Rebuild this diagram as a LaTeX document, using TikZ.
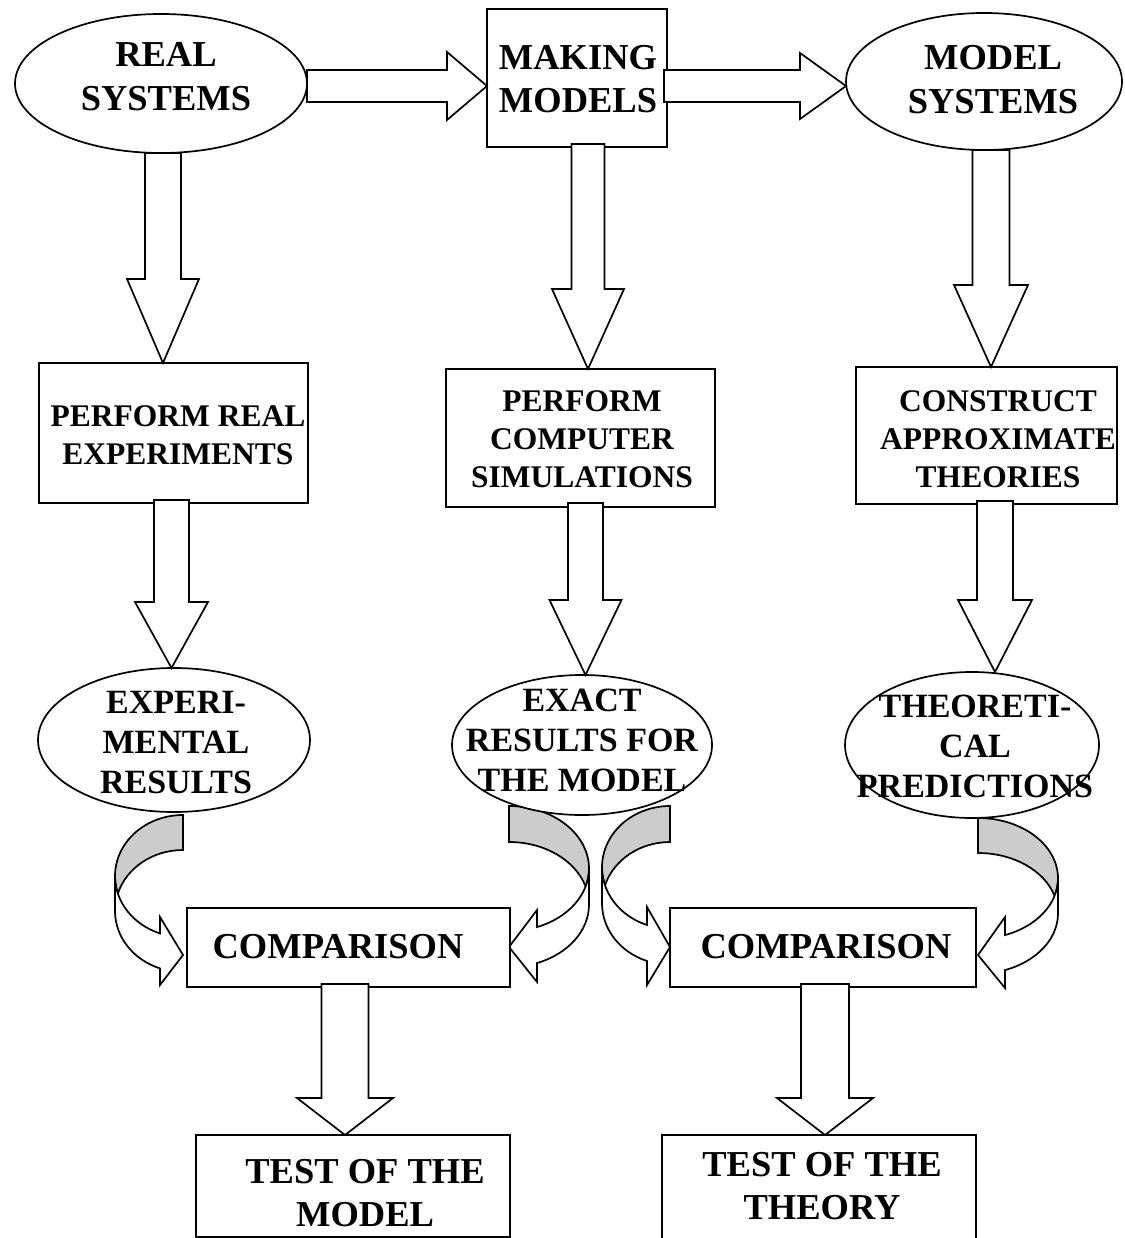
\documentclass[tikz,border=0pt]{standalone}
\usepackage{fontspec}
\setmainfont{Liberation Serif}
\usetikzlibrary{calc,shapes.geometric}
\pgfdeclarelayer{bg}
\pgfsetlayers{bg,main}

\tikzset{
  shapeline/.style={draw=black, line width=1.7pt, fill=white},
  ell/.style={shapeline, ellipse, inner sep=0pt, outer sep=0pt},
  boxn/.style={shapeline, rectangle, inner sep=0pt, outer sep=0pt},
  lblbase/.style={inner sep=0pt, outer sep=0pt, align=center},
  lblbig/.style={lblbase, font=\fontsize{36.5}{43.5}\selectfont\bfseries},
  lblmid/.style={lblbase, font=\fontsize{31.5}{38}\selectfont\bfseries},
  lblsmall/.style={lblbase, font=\fontsize{34}{40}\selectfont\bfseries},
  blockarrow/.style={draw=black, line width=1.7pt, fill=white, line join=miter},
  curvfront/.style={draw=black, line width=1.7pt, fill=white, line join=miter},
  curvback/.style={draw=black, line width=1.7pt, fill=gray!40, line join=miter},
}

% vertical block arrow: x, source, target, half shaft, half head, head length, inset
\newcommand\vblock[7]{%
  \coordinate (bs) at (#1,0 |- #2.south);
  \coordinate (bt) at (#1,0 |- #3.north);
  \draw[blockarrow] ($(bs)+(-#4,-#7)$) -- ($(bt)+(-#4,-#6)$) -- ($(bt)+(-#5,-#6)$) -- (bt)
     -- ($(bt)+(#5,-#6)$) -- ($(bt)+(#4,-#6)$) -- ($(bs)+(#4,-#7)$) -- cycle;
}
% horizontal block arrow: y, source, target, half shaft, half head, head length, inset
\newcommand\hblock[7]{%
  \coordinate (bs) at (#2.east |- 0,#1);
  \coordinate (bt) at (#3.west |- 0,#1);
  \draw[blockarrow] ($(bs)+(-#7,-#4)$) -- ($(bt)+(-#6,-#4)$) -- ($(bt)+(-#6,-#5)$) -- (bt)
     -- ($(bt)+(-#6,#5)$) -- ($(bt)+(-#6,#4)$) -- ($(bs)+(-#7,#4)$) -- cycle;
}
% curved arrow pointing right: r, t, w, hR, th, ah, barb top, barb bottom, tip y
\newcommand\curvR[9]{%
  \pgfmathsetmacro\cvcyA{#2+#4}
  \pgfmathsetmacro\cvcyB{#2+#4+#5}
  \pgfmathsetmacro\cval{acos(#6/#3)}
  \pgfmathsetmacro\cvthn{180-\cval}
  \pgfmathsetmacro\cvbe{asin(#5/(2*#4))}
  \pgfmathsetmacro\cvxn{#1-#6}
  \pgfmathsetmacro\cvysev{\cvcyB+#4*sin(\cval)}
  \pgfmathsetmacro\cvxl{#1-#3}
  \pgfmathsetmacro\cvtt{#2+#5}
  \pgfmathsetmacro\cvaA{180+\cvbe}
  \pgfmathsetmacro\cvaB{180-\cvbe}
  \draw[curvback] (#1,\cvtt) arc[start angle=270, end angle=\cvaA, x radius=#3, y radius=#4]
     arc[start angle=\cvaB, end angle=270, x radius=#3, y radius=#4] -- cycle;
  \draw[curvfront] (\cvxl,\cvcyA) arc[start angle=180, end angle=\cvthn, x radius=#3, y radius=#4]
     -- (\cvxn,#7) -- (#1,#9) -- (\cvxn,#8) -- (\cvxn,\cvysev)
     arc[start angle=\cvthn, end angle=180, x radius=#3, y radius=#4] -- cycle;
}
% curved arrow pointing left: l, t, w, hR, th, ah, barb top, barb bottom, tip y
\newcommand\curvL[9]{%
  \pgfmathsetmacro\cvcyA{#2+#4}
  \pgfmathsetmacro\cvcyB{#2+#4+#5}
  \pgfmathsetmacro\cval{acos(#6/#3)}
  \pgfmathsetmacro\cvthn{\cval}
  \pgfmathsetmacro\cvbe{asin(#5/(2*#4))}
  \pgfmathsetmacro\cvxn{#1+#6}
  \pgfmathsetmacro\cvysev{\cvcyB+#4*sin(\cval)}
  \pgfmathsetmacro\cvxr{#1+#3}
  \pgfmathsetmacro\cvtt{#2+#5}
  \pgfmathsetmacro\cvaA{360-\cvbe}
  \pgfmathsetmacro\cvaB{\cvbe}
  \draw[curvback] (#1,\cvtt) arc[start angle=270, end angle=\cvaA, x radius=#3, y radius=#4]
     arc[start angle=\cvaB, end angle=-90, x radius=#3, y radius=#4] -- cycle;
  \draw[curvfront] (\cvxr,\cvcyA) arc[start angle=0, end angle=\cvthn, x radius=#3, y radius=#4]
     -- (\cvxn,#7) -- (#1,#9) -- (\cvxn,#8) -- (\cvxn,\cvysev)
     arc[start angle=\cvthn, end angle=0, x radius=#3, y radius=#4] -- cycle;
}

\begin{document}
\begin{tikzpicture}[x=1pt, y=-1pt]
\useasboundingbox (0,0) rectangle (1124,1238);

% ---------- shapes ----------
\node[ell, minimum width=292, minimum height=139] (RS) at (161,83.5) {};
\node[boxn, minimum width=180, minimum height=138] (MM) at (577,78) {};
\node[ell, minimum width=276, minimum height=137] (MS) at (984,81.5) {};

\node[boxn, minimum width=269, minimum height=140] (PRE) at (173.5,433) {};
\node[boxn, minimum width=269, minimum height=138] (PCS) at (580.5,438) {};
\node[boxn, minimum width=261, minimum height=137] (CAT) at (986.5,435.5) {};

\node[ell, minimum width=272, minimum height=144] (ER) at (174,740) {};
\node[ell, minimum width=260, minimum height=140] (EXR) at (582,745) {};
\node[ell, minimum width=254, minimum height=146] (TP) at (972,745) {};

\node[boxn, minimum width=323, minimum height=79] (C1) at (348.5,947.5) {};
\node[boxn, minimum width=306, minimum height=79] (C2) at (823,947.5) {};

\node[boxn, minimum width=314, minimum height=102] (T1) at (353,1186) {};
\node[boxn, minimum width=314, minimum height=110] (T2) at (819,1190) {};

% ---------- curved arrows (behind) ----------
\begin{pgfonlayer}{bg}
  \curvR{183}{815}{68}{61}{35}{23}{917}{985}{955}
  \curvL{509}{806}{80}{62.5}{36}{28}{910}{982}{947}
  \curvR{670}{806}{68}{61.3}{36}{23}{907}{985}{947}
  \curvL{978}{818}{80}{60.3}{35}{27}{917}{988}{955}
\end{pgfonlayer}

% ---------- block arrows ----------
\hblock{86}{RS}{MM}{16}{34}{40}{0}
\hblock{86}{MM}{MS}{16}{33}{46}{3}

\vblock{163}{RS}{PRE}{18}{36}{84}{0}
\vblock{588}{MM}{PCS}{16.5}{36}{80}{3}
\vblock{991}{MS}{CAT}{18.5}{37}{82}{0}

\vblock{171.5}{PRE}{ER}{17.5}{36.5}{66}{3}
\vblock{585.5}{PCS}{EXR}{17.5}{36}{75}{4}
\vblock{995}{CAT}{TP}{18}{37}{72}{3}

\vblock{345}{C1}{T1}{23.5}{48}{37}{3}
\vblock{825}{C2}{T2}{24}{48}{37}{3}

% ---------- texts ----------
\node[lblbig] (RSt) at (166,76.5) {REAL\\SYSTEMS};
\node[lblbig] (MMt) at (578,79) {MAKING\\MODELS};
\node[lblbig] (MSt) at (993,79.5) {MODEL\\SYSTEMS};

\node[lblmid] (PREt) at (178,435.5) {PERFORM REAL\\EXPERIMENTS};
\node[lblmid] (PCSt) at (582,439.5) {PERFORM\\COMPUTER\\SIMULATIONS};
\node[lblmid] (CATt) at (998,439) {CONSTRUCT\\APPROXIMATE\\THEORIES};

\node[lblsmall] (ERt) at (176,742.5) {EXPERI-\\MENTAL\\RESULTS};
\node[lblsmall] (EXRt) at (582,740) {EXACT\\RESULTS FOR\\THE MODEL};
\node[lblsmall] (TPt) at (975,746) {THEORETI-\\CAL\\PREDICTIONS};

\node[lblbig] (C1t) at (338,946.5) {COMPARISON};
\node[lblbig] (C2t) at (826,946.5) {COMPARISON};

\node[lblbig] (T1t) at (365,1193) {TEST OF THE\\MODEL};
\node[lblbig] (T2t) at (822,1186) {TEST OF THE\\THEORY};
\end{tikzpicture}
\end{document}
